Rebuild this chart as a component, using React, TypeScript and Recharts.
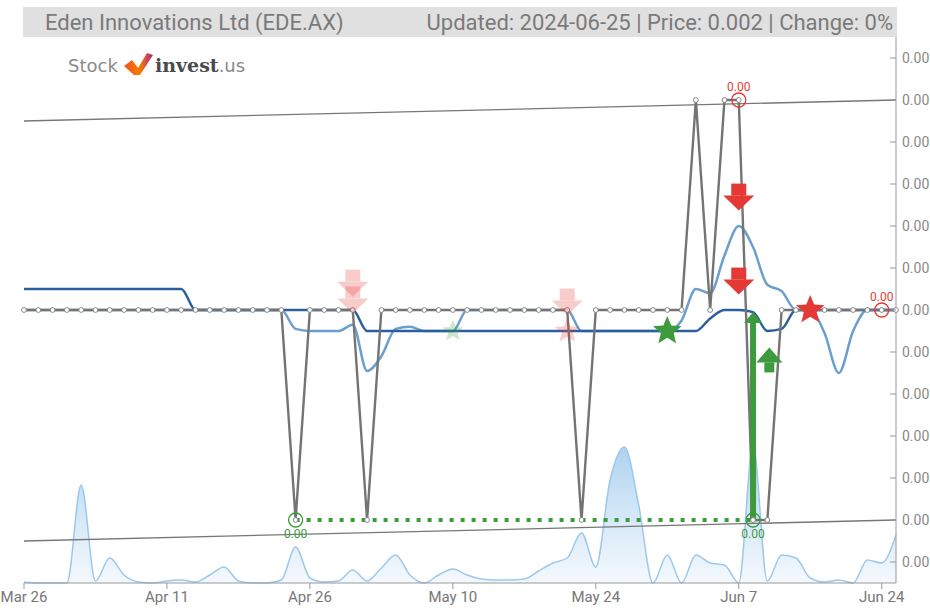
import React from "react";
import {
  ComposedChart,
  Line,
  Area,
  Scatter,
  XAxis,
  YAxis,
  ReferenceLine,
} from "recharts";

// trading days shown on the chart (index = position on the x axis)
const dates = [
  "Mar 26", "Mar 27", "Mar 28", "Apr 2", "Apr 3", "Apr 4", "Apr 5", "Apr 8", "Apr 9", "Apr 10",
  "Apr 11", "Apr 12", "Apr 15", "Apr 16", "Apr 17", "Apr 18", "Apr 19", "Apr 22", "Apr 23", "Apr 24",
  "Apr 26", "Apr 29", "Apr 30", "May 1", "May 2", "May 3", "May 6", "May 7", "May 8", "May 9",
  "May 10", "May 13", "May 14", "May 15", "May 16", "May 17", "May 20", "May 21", "May 22", "May 23",
  "May 24", "May 27", "May 28", "May 29", "May 30", "May 31", "Jun 3", "Jun 4", "Jun 5", "Jun 6",
  "Jun 7", "Jun 11", "Jun 12", "Jun 13", "Jun 14", "Jun 17", "Jun 18", "Jun 19", "Jun 20", "Jun 21",
  "Jun 24", "Jun 25",
];

const closePrice = [
  0.002, 0.002, 0.002, 0.002, 0.002, 0.002, 0.002, 0.002, 0.002, 0.002,
  0.002, 0.002, 0.002, 0.002, 0.002, 0.002, 0.002, 0.002, 0.002, 0.001,
  0.002, 0.002, 0.002, 0.002, 0.001, 0.002, 0.002, 0.002, 0.002, 0.002,
  0.002, 0.002, 0.002, 0.002, 0.002, 0.002, 0.002, 0.002, 0.002, 0.001,
  0.002, 0.002, 0.002, 0.002, 0.002, 0.002, 0.002, 0.003, 0.002, 0.003,
  0.003, 0.001, 0.001, 0.002, 0.002, 0.002, 0.002, 0.002, 0.002, 0.002,
  0.002, 0.002,
];

const fastMa = [
  0.002, 0.002, 0.002, 0.002, 0.002, 0.002, 0.002, 0.002, 0.002, 0.002,
  0.002, 0.002, 0.002, 0.002, 0.002, 0.002, 0.002, 0.002, 0.002, 0.00191,
  0.0019, 0.0019, 0.0019, 0.00193, 0.00171, 0.00178, 0.00191, 0.00192, 0.0019, 0.0019,
  0.0019, 0.002, 0.002, 0.002, 0.002, 0.002, 0.002, 0.002, 0.002, 0.0019,
  0.0019, 0.0019, 0.0019, 0.0019, 0.0019, 0.0019, 0.00195, 0.0021, 0.00208, 0.00226,
  0.0024, 0.0023, 0.00212, 0.00209, 0.002, 0.002, 0.00189, 0.0017, 0.0019, 0.002,
  0.002, 0.002,
];

const slowMa = [
  0.0021, 0.0021, 0.0021, 0.0021, 0.0021, 0.0021, 0.0021, 0.0021, 0.0021, 0.0021,
  0.0021, 0.0021, 0.002, 0.002, 0.002, 0.002, 0.002, 0.002, 0.002, 0.002,
  0.002, 0.002, 0.002, 0.002, 0.0019, 0.0019, 0.0019, 0.0019, 0.0019, 0.0019,
  0.0019, 0.0019, 0.0019, 0.0019, 0.0019, 0.0019, 0.0019, 0.0019, 0.0019, 0.0019,
  0.0019, 0.0019, 0.0019, 0.0019, 0.0019, 0.0019, 0.0019, 0.0019, 0.00196, 0.002,
  0.002, 0.00199, 0.0019, 0.00191, 0.002, 0.002, 0.002, 0.002, 0.002, 0.002,
  0.002, 0.002,
];

// volume, millions of shares
const volumeM = [
  0.1, 0, 0, 0, 9.8, 0.2, 2.5, 0.8, 0.1, 0,
  0.2, 0.3, 0.1, 0.8, 1.6, 0.2, 0, 0, 0.3, 3.6,
  0.5, 0.1, 0.2, 1.3, 0.2, 1.5, 2.8, 0.8, 0, 0.8,
  1.4, 0.8, 0.4, 0.3, 0.3, 0.4, 1.2, 2.0, 2.5, 5.0,
  1.6, 10.3, 13.6, 7.8, 0, 2.8, 0, 2.8, 2.0, 1.8,
  0, 13.8, 0.2, 2.8, 2.5, 0.5, 0.1, 0.3, 0, 2.3,
  2.0, 4.8,
];

const xTicks = [0, 10, 20, 30, 40, 50, 60];
const yTicks = [
  0.0008, 0.001, 0.0012, 0.0014, 0.0016, 0.0018, 0.002, 0.0022, 0.0024, 0.0026, 0.0028, 0.003, 0.0032,
];

const upperTrend = [
  { x: 0, y: 0.0029 },
  { x: 61, y: 0.003 },
];
const lowerTrend = [
  { x: 0, y: 0.0009 },
  { x: 61, y: 0.001 },
];
const supportLine = [
  { x: 19, y: 0.001 },
  { x: 51, y: 0.001 },
];
const buyShaft = [
  { x: 51, y: 0.001 },
  { x: 51, y: 0.00194 },
];

const sellArrows = [
  { i: 50, p: 0.00254 },
  { i: 50, p: 0.00214 },
];
const weakSellArrows = [
  { i: 23, p: 0.00213 },
  { i: 23, p: 0.00205 },
  { i: 38, p: 0.00204 },
];
const weakSellStars = [{ i: 38, p: 0.0019 }];
const buyArrows = [{ i: 52, p: 0.00176 }];
const buyHeads = [{ i: 51, p: 0.00199 }];
const buyStars = [{ i: 45, p: 0.0019 }];
const weakBuyStars = [{ i: 30, p: 0.0019 }];
const sellStars = [{ i: 55, p: 0.002 }];
const highMarks = [
  { i: 50, p: 0.003 },
  { i: 60, p: 0.002 },
];
const lowMarks = [
  { i: 19, p: 0.001 },
  { i: 51, p: 0.001 },
];

const data = dates.map((d, i) => ({
  i,
  date: d,
  close: closePrice[i],
  fast: fastMa[i],
  slow: slowMa[i],
  vol: volumeM[i],
}));

const RED = "#e53935";
const GREEN = "#3d9a3d";
const FONT = "Roboto, sans-serif";

const starPoints = (cx: number, cy: number, R: number, r: number) => {
  const pts: string[] = [];
  for (let k = 0; k < 10; k++) {
    const a = ((-90 + k * 36) * Math.PI) / 180;
    const rad = k % 2 === 0 ? R : r;
    pts.push(`${cx + rad * Math.cos(a)},${cy + rad * Math.sin(a)}`);
  }
  return pts.join(" ");
};

const DownArrow = ({ cx, cy, color, opacity = 1 }: any) => (
  <g opacity={opacity}>
    <rect x={cx - 7.5} y={cy - 13} width={15} height={12} fill={color} />
    <polygon points={`${cx - 15.5},${cy - 1} ${cx + 15.5},${cy - 1} ${cx},${cy + 14}`} fill={color} />
  </g>
);

const UpArrow = ({ cx, cy, color }: any) => (
  <g>
    <polygon points={`${cx - 13},${cy + 2} ${cx + 13},${cy + 2} ${cx},${cy - 13}`} fill={color} />
    <rect x={cx - 5} y={cy + 2} width={10} height={10} fill={color} />
  </g>
);

const Star = ({ cx, cy, color, size = 15, opacity = 1 }: any) => (
  <polygon points={starPoints(cx, cy, size, size * 0.45)} fill={color} opacity={opacity} />
);

const PriceTick = (props: any) => {
  const { x, y, payload } = props;
  return (
    <g>
      <line x1={x - 14} x2={x - 8} y1={y} y2={y} stroke="#999" />
      <text x={x - 2} y={y} dy={5} fill="#8a8a8a" fontSize={14} fontFamily={FONT}>
        {payload.value.toFixed(2)}
      </text>
    </g>
  );
};

const App = () => {
  return (
    <div style={{ position: "absolute", left: 0, top: 0, width: 930, height: 608, background: "#fff" }}>
      <ComposedChart
        width={930}
        height={608}
        data={data}
        margin={{ top: 37, right: 0, bottom: 0, left: 24 }}
      >
        <defs>
          <linearGradient id="volFill" x1="0" y1="0" x2="0" y2="1">
            <stop offset="0%" stopColor="#6cafe4" stopOpacity={0.95} />
            <stop offset="100%" stopColor="#e3effa" stopOpacity={0.7} />
          </linearGradient>
        </defs>
        <XAxis
          dataKey="i"
          type="number"
          domain={[0, 61]}
          ticks={xTicks}
          interval={0}
          tickFormatter={(v: number) => dates[v]}
          stroke="#999"
          tick={{ fill: "#777", fontSize: 15, fontFamily: FONT }}
          height={25}
        />
        <YAxis
          yAxisId="price"
          orientation="right"
          domain={[0.0007, 0.0033]}
          ticks={yTicks}
          interval={0}
          width={34}
          stroke="#999"
          tickLine={false}
          tick={<PriceTick />}
        />
        <YAxis yAxisId="vol" hide domain={[0, 54.6]} />

        <Area
          yAxisId="vol"
          type="monotone"
          dataKey="vol"
          stroke="#9cc8ec"
          strokeWidth={1.5}
          fill="url(#volFill)"
          isAnimationActive={false}
          dot={false}
          activeDot={false}
        />
        <ReferenceLine yAxisId="price" segment={upperTrend} stroke="#777" strokeWidth={1.3} />
        <ReferenceLine yAxisId="price" segment={lowerTrend} stroke="#777" strokeWidth={1.3} />
        <ReferenceLine
          yAxisId="price"
          segment={supportLine}
          stroke={GREEN}
          strokeWidth={4}
          strokeDasharray="4 7"
        />
        <Line
          yAxisId="price"
          type="monotone"
          dataKey="fast"
          stroke="#6b9fcf"
          strokeWidth={2.5}
          dot={false}
          activeDot={false}
          isAnimationActive={false}
        />
        <Line
          yAxisId="price"
          type="monotone"
          dataKey="slow"
          stroke="#2c5f9e"
          strokeWidth={2.5}
          dot={false}
          activeDot={false}
          isAnimationActive={false}
        />
        <Line
          yAxisId="price"
          type="linear"
          dataKey="close"
          stroke="#747474"
          strokeWidth={2.4}
          dot={{ r: 2.4, fill: "#fff", stroke: "#888", strokeWidth: 1 }}
          activeDot={false}
          isAnimationActive={false}
        />
        <ReferenceLine yAxisId="price" segment={buyShaft} stroke={GREEN} strokeWidth={6} />

        <Scatter
          yAxisId="price"
          data={weakSellArrows}
          dataKey="p"
          isAnimationActive={false}
          shape={(p: any) => <DownArrow cx={p.cx} cy={p.cy} color={RED} opacity={0.25} />}
        />
        <Scatter
          yAxisId="price"
          data={weakSellStars}
          dataKey="p"
          isAnimationActive={false}
          shape={(p: any) => <Star cx={p.cx} cy={p.cy} color={RED} size={13} opacity={0.25} />}
        />
        <Scatter
          yAxisId="price"
          data={weakBuyStars}
          dataKey="p"
          isAnimationActive={false}
          shape={(p: any) => <Star cx={p.cx} cy={p.cy} color={GREEN} size={11} opacity={0.25} />}
        />
        <Scatter
          yAxisId="price"
          data={buyStars}
          dataKey="p"
          isAnimationActive={false}
          shape={(p: any) => <Star cx={p.cx} cy={p.cy} color={GREEN} size={15} />}
        />
        <Scatter
          yAxisId="price"
          data={sellStars}
          dataKey="p"
          isAnimationActive={false}
          shape={(p: any) => <Star cx={p.cx} cy={p.cy} color={RED} size={15} />}
        />
        <Scatter
          yAxisId="price"
          data={sellArrows}
          dataKey="p"
          isAnimationActive={false}
          shape={(p: any) => <DownArrow cx={p.cx} cy={p.cy} color={RED} />}
        />
        <Scatter
          yAxisId="price"
          data={buyHeads}
          dataKey="p"
          isAnimationActive={false}
          shape={(p: any) => (
            <polygon
              points={`${p.cx - 9},${p.cy + 11} ${p.cx + 9},${p.cy + 11} ${p.cx},${p.cy}`}
              fill={GREEN}
            />
          )}
        />
        <Scatter
          yAxisId="price"
          data={buyArrows}
          dataKey="p"
          isAnimationActive={false}
          shape={(p: any) => <UpArrow cx={p.cx + 2} cy={p.cy} color={GREEN} />}
        />
        <Scatter
          yAxisId="price"
          data={highMarks}
          dataKey="p"
          isAnimationActive={false}
          shape={(p: any) => (
            <g>
              <circle cx={p.cx} cy={p.cy} r={7} fill="none" stroke={RED} strokeWidth={1.3} />
              <text x={p.cx} y={p.cy - 9} textAnchor="middle" fill={RED} fontSize={12} fontFamily={FONT}>
                {p.payload.p.toFixed(2)}
              </text>
            </g>
          )}
        />
        <Scatter
          yAxisId="price"
          data={lowMarks}
          dataKey="p"
          isAnimationActive={false}
          shape={(p: any) => (
            <g>
              <circle cx={p.cx} cy={p.cy} r={7} fill="none" stroke={GREEN} strokeWidth={1.3} />
              <text x={p.cx} y={p.cy + 18} textAnchor="middle" fill={GREEN} fontSize={12} fontFamily={FONT}>
                {p.payload.p.toFixed(2)}
              </text>
            </g>
          )}
        />
      </ComposedChart>

      <div
        style={{
          position: "absolute",
          left: 23,
          top: 7,
          width: 874,
          height: 30,
          background: "#e0e0e0",
          fontFamily: FONT,
          fontSize: 22,
          color: "#7a7a7a",
          display: "flex",
          alignItems: "center",
          justifyContent: "space-between",
          padding: "0 4px 0 22px",
          boxSizing: "border-box",
          whiteSpace: "nowrap",
        }}
      >
        <span>Eden Innovations Ltd (EDE.AX)</span>
        <span>Updated: 2024-06-25 | Price: 0.002 | Change: 0%</span>
      </div>

      <svg style={{ position: "absolute", left: 60, top: 48 }} width={200} height={34}>
        <defs>
          <linearGradient id="logoMark" x1="0" y1="0" x2="1" y2="0">
            <stop offset="0%" stopColor="#f4511e" />
            <stop offset="55%" stopColor="#f57c00" />
            <stop offset="100%" stopColor="#b0208f" />
          </linearGradient>
        </defs>
        <text x={8} y={24} fontFamily="DejaVu Sans" fontSize={18} fill="#8a8a8a">
          Stock
        </text>
        <polygon points="64,18 72,12 78,20 87,5 93,7 80,27 74,27" fill="url(#logoMark)" />
        <text x={95} y={24} fontFamily="DejaVu Serif" fontSize={19}>
          <tspan fontWeight="bold" fill="#4a4a4a">invest</tspan>
          <tspan fill="#8a8a8a" fontFamily="DejaVu Sans" fontSize={18}>.us</tspan>
        </text>
      </svg>
    </div>
  );
};

export default App;
